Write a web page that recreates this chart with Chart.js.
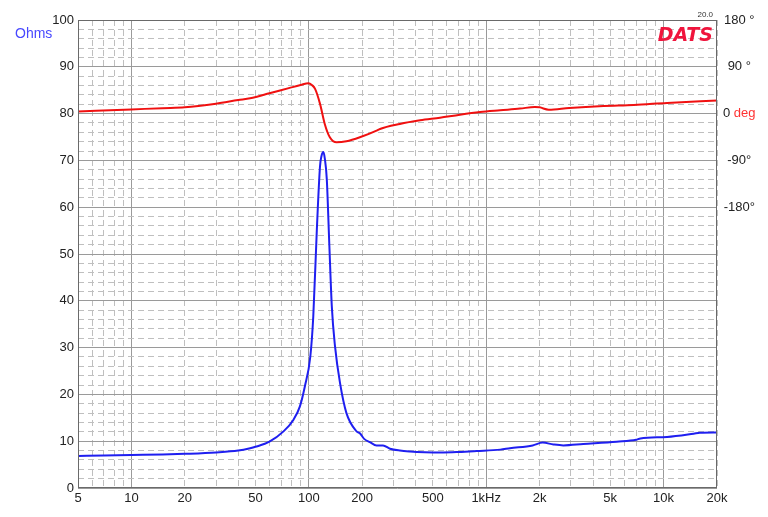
<!DOCTYPE html>
<html>
<head>
<meta charset="utf-8">
<script src="https://cdn.jsdelivr.net/npm/chart.js@4.4.0/dist/chart.umd.min.js"></script>
<style>
  html, body { margin: 0; padding: 0; background: #fff; }
  #wrap { width: 768px; height: 517px; }
</style>
</head>
<body>
<div id="wrap"><canvas id="dats-chart"></canvas></div>
<script>
// impedance magnitude (ohms) vs frequency (Hz)
const zFreq = [5, 7, 10, 15, 20, 30, 40, 46.7, 50, 60, 72, 82, 89, 95, 102, 106, 111, 115.7, 118, 120.8, 123, 126.3,
    130.6, 134.8, 140.5, 150, 163, 186, 194, 205, 221, 241, 262, 287, 326, 372, 450, 572, 700, 884, 1200, 1360,
    1828, 2080, 2393, 2722, 3525, 5440, 7000, 7400, 10460, 14775, 16000, 20000];
const zOhms = [6.85, 6.95, 7.05, 7.15, 7.3, 7.6, 8.0, 8.5, 8.8, 9.9, 12.1, 14.6, 17.4, 21.7, 28.1, 36.7, 55.2, 68.8, 71.0, 71.8, 70.5, 66,
    51.7, 38.8, 30.3, 22.4, 16, 12.1, 11.7, 10.5, 9.8, 9.1, 9.1, 8.4, 8.0, 7.8, 7.65, 7.6, 7.7, 7.9, 8.2, 8.5,
    9.1, 9.7, 9.3, 9.1, 9.4, 9.9, 10.3, 10.6, 10.9, 11.6, 11.8, 11.85];

// phase (degrees) vs frequency (Hz)
const phFreq = [5, 10, 15, 20, 30, 40, 46.7, 60, 78, 90, 99.6, 104, 108.5, 115.7, 123, 131.4, 143.4, 163, 194, 241,
    252, 326, 424, 549, 711, 923, 1198, 1552, 1880, 2000, 2250, 2938, 4583, 6795, 10460, 16133, 20000];
const phDeg = [4, 8, 10.5, 12, 19, 26, 29.5, 39, 49.5, 55, 58.4, 55, 47.5, 18.7, -19.9, -45.6, -55.3, -53.3, -45.6, -32.8,
    -29.5, -19.9, -12.9, -7.8, -2, 3, 6.4, 9.6, 12.8, 12, 7.6, 11, 14.8, 16.7, 20.6, 23.7, 25];

// axis ticks
const xTicks = [5, 6, 7, 8, 9, 10, 20, 30, 40, 50, 60, 70, 80, 90, 100, 200, 300, 400, 500, 600, 700, 800, 900,
    1000, 2000, 3000, 4000, 5000, 6000, 7000, 8000, 9000, 10000, 20000];
const xLabels = {5: '5', 10: '10', 20: '20', 50: '50', 100: '100', 200: '200', 500: '500',
    1000: '1kHz', 2000: '2k', 5000: '5k', 10000: '10k', 20000: '20k'};
const phTicks = [-180, -90, 0, 90, 180];
const phLabels = {'-180': '-180°', '-90': '-90°', '0': '0 deg', '90': '90 °', '180': '180 °'};

const FONT = "'Liberation Sans', Arial, sans-serif";
const MAJOR = '#9a9a9a';
const MINOR = '#bfbfbf';

function isDecade(v) {
    return v !== undefined && Math.abs(Math.log10(v) - Math.round(Math.log10(v))) < 1e-6;
}

const extras = {
    id: 'extras',
    afterDraw(chart) {
        const c = chart.ctx;
        const a = chart.chartArea;
        c.save();
        // frame
        c.strokeStyle = '#6a6a6a';
        c.lineWidth = 1;
        c.strokeRect(a.left + 0.5, a.top + 0.5, a.right - a.left - 1, a.bottom - a.top - 1);

        // Ohms label
        c.font = '14px ' + FONT;
        c.fillStyle = '#4848ff';
        c.textBaseline = 'middle';
        c.textAlign = 'left';
        c.fillText('Ohms', 15, 34);

        // 0 deg in two colours
        c.font = '13px ' + FONT;
        const s = chart.scales.y2;
        const item = s.getLabelItems().find(it => it.label === '0 deg');
        if (item) {
            const x = item.options.translation[0];
            const y = s.getPixelForValue(0);
            const w = c.measureText('0 deg').width;
            const left = x - w / 2;
            c.fillStyle = '#222';
            c.fillText('0', left, y);
            c.fillStyle = '#ff3333';
            c.fillText('deg', left + c.measureText('0 ').width, y);
        }

        // logo
        c.textAlign = 'right';
        c.textBaseline = 'alphabetic';
        c.font = "italic bold 19px 'DejaVu Sans', sans-serif";
        c.fillStyle = '#f0143c';
        c.fillText('DATS', 713, 41);
        c.font = '8px ' + FONT;
        c.fillStyle = '#333';
        c.fillText('20.0', 713, 17);
        c.restore();
    }
};

new Chart(document.getElementById('dats-chart'), {
    type: 'line',
    data: {
        datasets: [{
            label: 'Impedance',
            data: zFreq.map((f, i) => ({x: f, y: zOhms[i]})),
            borderColor: '#1f1ff0',
            borderWidth: 2,
            pointRadius: 0,
            cubicInterpolationMode: 'monotone',
            yAxisID: 'y'
        }, {
            label: 'Phase',
            data: phFreq.map((f, i) => ({x: f, y: phDeg[i]})),
            borderColor: '#f01010',
            borderWidth: 2,
            pointRadius: 0,
            cubicInterpolationMode: 'monotone',
            yAxisID: 'y2'
        }]
    },
    options: {
        responsive: true,
        maintainAspectRatio: false,
        animation: false,
        layout: {padding: {top: 20, left: 0, right: 0, bottom: 0}},
        plugins: {legend: {display: false}, tooltip: {enabled: false}},
        scales: {
            x: {
                type: 'logarithmic',
                min: 5,
                max: 20000,
                afterBuildTicks: s => { s.ticks = xTicks.map(v => ({value: v})); },
                afterFit: s => { s.height = 29; },
                ticks: {
                    autoSkip: false,
                    maxRotation: 0,
                    padding: 3,
                    color: '#222',
                    font: {family: FONT, size: 13},
                    callback: v => xLabels[v] || ''
                },
                grid: {
                    drawTicks: false,
                    color: ctx => isDecade(ctx.tick && ctx.tick.value) ? MAJOR : MINOR
                },
                border: {
                    display: false,
                    dash: ctx => isDecade(ctx.tick && ctx.tick.value) ? [] : [6, 4]
                }
            },
            y: {
                type: 'linear',
                position: 'left',
                min: 0,
                max: 100,
                afterFit: s => { s.width = 78; },
                ticks: {
                    stepSize: 2,
                    autoSkip: false,
                    padding: 4,
                    color: '#222',
                    font: {family: FONT, size: 13},
                    callback: v => v % 10 === 0 ? String(v) : ''
                },
                grid: {
                    drawTicks: false,
                    color: ctx => ctx.tick && ctx.tick.value % 10 === 0 ? MAJOR : MINOR
                },
                border: {
                    display: false,
                    dash: ctx => ctx.tick && ctx.tick.value % 10 !== 0 ? [6, 4] : []
                }
            },
            y2: {
                type: 'linear',
                position: 'right',
                min: -720,
                max: 180,
                afterBuildTicks: s => { s.ticks = phTicks.map(v => ({value: v})); },
                afterFit: s => { s.width = 51; },
                ticks: {
                    autoSkip: false,
                    padding: 6,
                    crossAlign: 'center',
                    font: {family: FONT, size: 13},
                    color: ctx => ctx.tick && ctx.tick.value === 0 ? 'rgba(0,0,0,0)' : '#222',
                    callback: v => phLabels[String(v)] || ''
                },
                grid: {display: false, drawTicks: false},
                border: {display: false}
            }
        }
    },
    plugins: [extras]
});
</script>
</body>
</html>
